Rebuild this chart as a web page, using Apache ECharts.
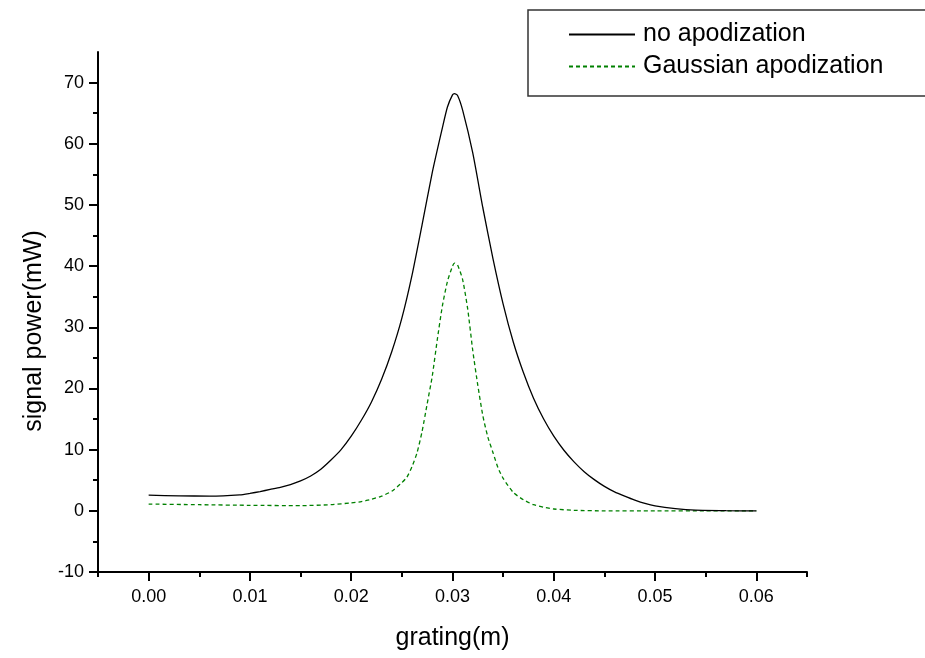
<!DOCTYPE html>
<html>
<head>
<meta charset="utf-8">
<script src="https://cdn.jsdelivr.net/npm/echarts@6/dist/echarts.min.js"></script>
<style>
  html, body { margin: 0; padding: 0; background: #fff; }
  #chart { width: 925px; height: 658px; }
</style>
</head>
<body>
<div id="chart"></div>
<script>
// Grating position (m) and signal power (mW) for the uniform grating
const xNoApod = [0, 0.003, 0.006, 0.009, 0.01, 0.011, 0.012, 0.013, 0.014, 0.015, 0.016, 0.017, 0.018, 0.019, 0.02, 0.021, 0.022, 0.023, 0.024, 0.025, 0.026, 0.027, 0.028, 0.029, 0.0295, 0.03, 0.0302, 0.0305, 0.031, 0.032, 0.033, 0.034, 0.035, 0.036, 0.037, 0.038, 0.039, 0.04, 0.041, 0.042, 0.043, 0.044, 0.045, 0.046, 0.047, 0.048, 0.049, 0.05, 0.052, 0.054, 0.057, 0.06];
const yNoApod = [2.55, 2.45, 2.4, 2.6, 2.85, 3.15, 3.5, 3.85, 4.3, 4.9, 5.7, 6.8, 8.3, 10.0, 12.2, 14.8, 17.8, 21.5, 26.0, 31.5, 38.5, 46.8, 55.3, 62.6, 66.0, 68.0, 68.2, 67.9, 65.5, 58.5, 49.5, 41.2, 33.8, 27.6, 22.6, 18.4, 15.0, 12.2, 9.9, 8.0, 6.4, 5.1, 4.0, 3.1, 2.4, 1.75, 1.2, 0.8, 0.35, 0.1, 0.02, 0];

// Grating position (m) and signal power (mW) with Gaussian apodization
const xGauss = [0, 0.005, 0.01, 0.015, 0.018, 0.02, 0.021, 0.022, 0.023, 0.024, 0.025, 0.0255, 0.026, 0.0265, 0.027, 0.0275, 0.028, 0.0285, 0.029, 0.0295, 0.03, 0.0302, 0.0305, 0.031, 0.0315, 0.032, 0.0325, 0.033, 0.0335, 0.034, 0.0345, 0.035, 0.036, 0.037, 0.038, 0.039, 0.04, 0.042, 0.045, 0.05, 0.055, 0.06];
const yGauss = [1.1, 1.0, 0.9, 0.85, 1.0, 1.3, 1.5, 1.9, 2.4, 3.2, 4.6, 5.5, 7.2, 9.5, 13.0, 17.5, 22.0, 28.0, 33.5, 37.5, 40.0, 40.5, 40.2, 37.8, 33.0, 26.2, 20.5, 15.5, 12.0, 9.5, 7.0, 5.3, 3.0, 1.8, 1.0, 0.6, 0.3, 0.08, 0, 0, 0, 0];

const seriesNames = ['no apodization', 'Gaussian apodization'];

// Axis ticks
const xMajorTicks = [0, 0.01, 0.02, 0.03, 0.04, 0.05, 0.06];
const xMinorTicks = [-0.005, 0.005, 0.015, 0.025, 0.035, 0.045, 0.055, 0.065];
const yMajorTicks = [-10, 0, 10, 20, 30, 40, 50, 60, 70];
const yMinorTicks = [-5, 5, 15, 25, 35, 45, 55, 65];

const pairs = (xs, ys) => xs.map((x, i) => [x, ys[i]]);

const FONT = '"Liberation Sans", Arial, sans-serif';
const axisLine = { show: true, onZero: false, lineStyle: { color: '#000', width: 2 } };
const hiddenLine = { show: false, onZero: false };

const chart = echarts.init(document.getElementById('chart'), null, { renderer: 'canvas' });

chart.setOption({
  animation: false,
  backgroundColor: '#fff',
  grid: { left: 98, right: 118, top: 52, bottom: 86, containLabel: false },
  graphic: [{
    type: 'rect',
    shape: { x: 528, y: 10, width: 420, height: 86 },
    style: { fill: '#fff', stroke: '#333', lineWidth: 1.5 },
    z: 0
  }],
  legend: {
    orient: 'vertical',
    left: 563,
    top: 17,
    itemWidth: 66,
    itemHeight: 14,
    itemGap: 7,
    z: 10,
    itemStyle: { opacity: 0, borderWidth: 0 },
    textStyle: { fontFamily: FONT, fontSize: 25, color: '#000', padding: [0, 0, 0, 3] },
    data: seriesNames
  },
  xAxis: [{
    type: 'value',
    min: -0.005,
    max: 0.065,
    name: 'grating(m)',
    nameLocation: 'middle',
    nameGap: 54,
    nameTextStyle: { fontFamily: FONT, fontSize: 25, color: '#000' },
    axisLine: axisLine,
    axisTick: { show: true, length: 9, customValues: xMajorTicks, lineStyle: { color: '#000', width: 2 } },
    axisLabel: { customValues: xMajorTicks, fontFamily: FONT, fontSize: 18, color: '#000', margin: 16,
      formatter: v => v.toFixed(2) },
    splitLine: { show: false }
  }, {
    type: 'value',
    min: -0.005,
    max: 0.065,
    position: 'bottom',
    axisLine: hiddenLine,
    axisTick: { show: true, length: 5, customValues: xMinorTicks, lineStyle: { color: '#000', width: 2 } },
    axisLabel: { show: false },
    splitLine: { show: false }
  }],
  yAxis: [{
    type: 'value',
    min: -10,
    max: 75,
    name: 'signal power(mW)',
    nameLocation: 'middle',
    nameGap: 50,
    nameTextStyle: { fontFamily: FONT, fontSize: 25, color: '#000', padding: [0, 38, 0, 0] },
    axisLine: axisLine,
    axisTick: { show: true, length: 9, customValues: yMajorTicks, lineStyle: { color: '#000', width: 2 } },
    axisLabel: { customValues: yMajorTicks, fontFamily: FONT, fontSize: 18, color: '#000', margin: 14 },
    splitLine: { show: false }
  }, {
    type: 'value',
    min: -10,
    max: 75,
    position: 'left',
    axisLine: hiddenLine,
    axisTick: { show: true, length: 5, customValues: yMinorTicks, lineStyle: { color: '#000', width: 2 } },
    axisLabel: { show: false },
    splitLine: { show: false }
  }],
  series: [{
    name: seriesNames[0],
    type: 'line',
    data: pairs(xNoApod, yNoApod),
    symbol: 'none',
    smooth: 0.2,
    lineStyle: { color: '#000', width: 1.3, type: 'solid' },
    itemStyle: { color: '#000' },
    z: 3
  }, {
    name: seriesNames[1],
    type: 'line',
    data: pairs(xGauss, yGauss),
    symbol: 'none',
    smooth: 0.2,
    lineStyle: { color: '#008000', width: 1.3, type: [4, 3] },
    itemStyle: { color: '#008000' },
    z: 2
  }]
});
</script>
</body>
</html>
